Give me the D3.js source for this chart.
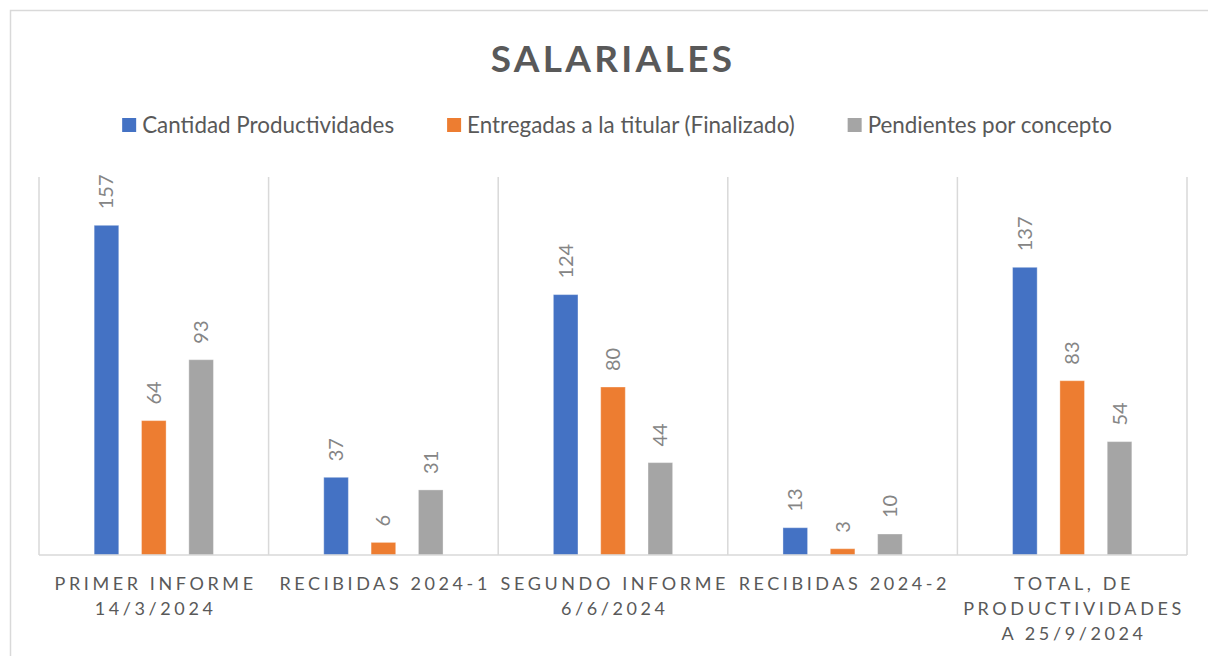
<!DOCTYPE html>
<html>
<head>
<meta charset="utf-8">
<script src="https://cdn.jsdelivr.net/npm/d3@7"></script>
<style>
  body { margin: 0; background: #fff; }
  text { font-family: Lato, "Open Sans", sans-serif; }
</style>
</head>
<body>
<div id="chart"></div>
<script>
  // Data
  var categories = [
    ["PRIMER INFORME", "14/3/2024"],
    ["RECIBIDAS 2024-1"],
    ["SEGUNDO INFORME", "6/6/2024"],
    ["RECIBIDAS 2024-2"],
    ["TOTAL, DE", "PRODUCTIVIDADES", "A 25/9/2024"]
  ];
  var seriesNames = ["Cantidad Productividades", "Entregadas a la titular (Finalizado)", "Pendientes por concepto"];
  var cantidad = [157, 37, 124, 13, 137];
  var entregadas = [64, 6, 80, 3, 83];
  var pendientes = [93, 31, 44, 10, 54];
  var colors = ["#4472C4", "#ED7D31", "#A5A5A5"];

  var seriesValues = [cantidad, entregadas, pendientes];
  var catKeys = categories.map(function(c) { return c.join(" "); });

  var W = 1208, H = 656;
  var plot = {left: 39, right: 1187, top: 177, bottom: 555};

  var svg = d3.select("#chart").append("svg")
    .attr("width", W)
    .attr("height", H);

  // frame
  svg.append("rect")
    .attr("x", 10.5).attr("y", 10.5)
    .attr("width", 1300).attr("height", 800)
    .attr("fill", "#fff")
    .attr("stroke", "#d9d9d9")
    .attr("stroke-width", 1.5);

  // Title
  svg.append("text")
    .attr("x", 613)
    .attr("y", 72)
    .attr("text-anchor", "middle")
    .attr("fill", "#595959")
    .style("font-size", "37px")
    .style("font-weight", "bold")
    .style("letter-spacing", "3.3px")
    .text("SALARIALES");

  // Legend
  var legend = svg.append("g");
  var lx = 0;
  seriesNames.forEach(function(name, i) {
    var item = legend.append("g").attr("transform", "translate(" + lx + ",0)");
    item.append("rect")
      .attr("x", 0).attr("y", 118)
      .attr("width", 14).attr("height", 14)
      .attr("fill", colors[i]);
    var t = item.append("text")
      .attr("x", 20).attr("y", 133)
      .attr("fill", "#595959")
      .style("font-size", "22.4px")
      .text(name);
    lx += 20 + t.node().getComputedTextLength() + 53;
  });
  var legendW = lx - 53;
  legend.attr("transform", "translate(" + (617 - legendW / 2) + ",0)");

  // Scales
  var x0 = d3.scaleBand()
    .domain(catKeys)
    .range([plot.left, plot.right])
    .padding(0);

  var x1 = d3.scaleBand()
    .domain(d3.range(seriesNames.length))
    .range([0, 142])
    .paddingInner(0.48)
    .paddingOuter(0.24);

  var y = d3.scaleLinear()
    .domain([0, 180])
    .range([plot.bottom, plot.top]);

  // Vertical separators
  var seps = catKeys.map(function(k) { return x0(k); }).concat([plot.right]);
  svg.append("g")
    .selectAll("line")
    .data(seps)
    .enter()
    .append("line")
      .attr("x1", function(d) { return d; })
      .attr("x2", function(d) { return d; })
      .attr("y1", plot.top)
      .attr("y2", plot.bottom)
      .attr("stroke", "#d9d9d9")
      .attr("stroke-width", 1.5);

  // Bars
  var groups = svg.append("g")
    .selectAll("g")
    .data(catKeys)
    .enter()
    .append("g")
      .attr("transform", function(d) {
        return "translate(" + (x0(d) + x0.bandwidth() / 2 - 71) + ",0)";
      });

  groups.selectAll("rect")
    .data(function(d, ci) {
      return seriesValues.map(function(vals, si) { return {s: si, v: vals[ci]}; });
    })
    .enter()
    .append("rect")
      .attr("x", function(d) { return x1(d.s); })
      .attr("width", x1.bandwidth())
      .attr("y", function(d) { return y(d.v); })
      .attr("height", function(d) { return y(0) - y(d.v); })
      .attr("fill", function(d) { return colors[d.s]; })
      .attr("stroke", "rgba(255,255,255,0.35)")
      .attr("stroke-width", 1);

  // Data labels (rotated)
  groups.selectAll("text")
    .data(function(d, ci) {
      return seriesValues.map(function(vals, si) { return {s: si, v: vals[ci]}; });
    })
    .enter()
    .append("text")
      .attr("transform", function(d) {
        var cx = x1(d.s) + x1.bandwidth() / 2 + 7;
        return "translate(" + cx + "," + (y(d.v) - 16) + ") rotate(-90)";
      })
      .attr("text-anchor", "start")
      .attr("fill", "#858585")
      .style("font-size", "20px")
      .text(function(d) { return d.v; });

  // Baseline
  svg.append("line")
    .attr("x1", plot.left).attr("x2", plot.right)
    .attr("y1", y(0)).attr("y2", y(0))
    .attr("stroke", "#d9d9d9")
    .attr("stroke-width", 1.5);

  // Category labels
  var catLabels = svg.append("g")
    .selectAll("text")
    .data(categories)
    .enter()
    .append("text")
      .attr("text-anchor", "middle")
      .attr("fill", "#595959")
      .style("font-size", "18px")
      .style("letter-spacing", "3.6px");

  catLabels.each(function(lines, i) {
    var cx = x0(catKeys[i]) + x0.bandwidth() / 2 + 1.8;
    d3.select(this).selectAll("tspan")
      .data(lines)
      .enter()
      .append("tspan")
        .attr("x", cx)
        .attr("y", function(d, j) { return 590 + j * 25; })
        .text(function(d) { return d; });
  });
</script>
</body>
</html>
